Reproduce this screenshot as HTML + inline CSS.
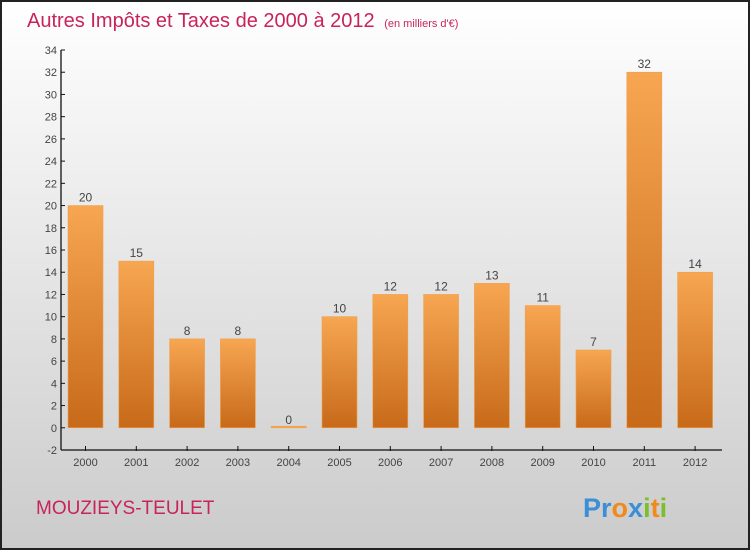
<!DOCTYPE html>
<html><head><meta charset="utf-8"><style>
html,body{margin:0;padding:0;}
body{width:750px;height:550px;overflow:hidden;font-family:"Liberation Sans",sans-serif;}
</style></head><body>
<svg id="chart" width="750" height="550" xmlns="http://www.w3.org/2000/svg">
<defs>
<linearGradient id="bg" x1="0" y1="0" x2="0" y2="1"><stop offset="0" stop-color="#ffffff"/><stop offset="1" stop-color="#cbcbcb"/></linearGradient>
<linearGradient id="bar" x1="0" y1="0" x2="0" y2="1"><stop offset="0" stop-color="#f7a651"/><stop offset="1" stop-color="#c76a1a"/></linearGradient>
</defs>
<rect x="1" y="1" width="748" height="548" fill="url(#bg)" stroke="#222" stroke-width="2"/>
<text x="27" y="27" font-size="20" fill="#c8245a" font-family="Liberation Sans, sans-serif">Autres Impôts et Taxes de 2000 à 2012 <tspan font-size="11" dx="4">(en milliers d'€)</tspan></text>
<text x="36" y="514" font-size="19" fill="#c8245a">MOUZIEYS-TEULET</text>
<g font-size="27" font-weight="bold" font-family="Liberation Sans, sans-serif">
<text x="583" y="517"><tspan fill="#3a8fd6">Pr</tspan><tspan fill="#f08a1a">o</tspan><tspan fill="#3a8fd6">x</tspan><tspan fill="#7bbf2a">i</tspan><tspan fill="#f08a1a">t</tspan><tspan fill="#7bbf2a">i</tspan></text>
</g>
<g id="axes"></g>
<g id="bars"></g>
</svg>
<script>
const categories=["2000","2001","2002","2003","2004","2005","2006","2007","2008","2009","2010","2011","2012"];
const values=[20,15,8,8,0,10,12,12,13,11,7,32,14];
const yTicks=[-2,0,2,4,6,8,10,12,14,16,18,20,22,24,26,28,30,32,34];
const NS="http://www.w3.org/2000/svg";
const yMin=-2,yMax=34,plotTop=50,plotBottom=450,axisX=61;
function y(v){return plotBottom-(v-yMin)*(plotBottom-plotTop)/(yMax-yMin);}
function x(i){return 85.5+i*50.8;}
function mk(t,a,p){const e=document.createElementNS(NS,t);for(const k in a)e.setAttribute(k,a[k]);p.appendChild(e);return e;}
const ax=document.getElementById('axes'),bs=document.getElementById('bars');
const yl=mk('line',{x1:axisX,y1:plotTop,x2:axisX,y2:plotBottom,stroke:'#111','stroke-width':1.3},ax);


const xl=mk('line',{x1:axisX,y1:plotBottom,x2:722,y2:plotBottom,stroke:'#111','stroke-width':1.3},ax);


yTicks.forEach(v=>{
 mk('line',{x1:axisX,y1:y(v),x2:axisX+4,y2:y(v),stroke:'#111'},ax);
 const t=mk('text',{x:axisX-4,y:y(v)+4,'text-anchor':'end','font-size':11,fill:'#444'},ax);
 t.textContent=v;
 
 
});
categories.forEach((c,i)=>{
 mk('line',{x1:x(i),y1:plotBottom-4,x2:x(i),y2:plotBottom+1,stroke:'#111'},ax);
 const t=mk('text',{x:x(i),y:plotBottom+16,'text-anchor':'middle','font-size':11,fill:'#444'},ax);
 t.textContent=c;
 
 
 const v=values[i];
 const h=Math.max(y(0)-y(v),1.5);
 const r=mk('rect',{x:x(i)-17.5,y:y(0)-h,width:35,height:h,fill:v>0?'url(#bar)':'#f7a651',stroke:'#f0a050','stroke-width':0.6},bs);
 
 
 const l=mk('text',{x:x(i),y:y(v)-4,'text-anchor':'middle','font-size':12,fill:'#444'},bs);
 l.textContent=v;
 
 
});
</script>
</body></html>
